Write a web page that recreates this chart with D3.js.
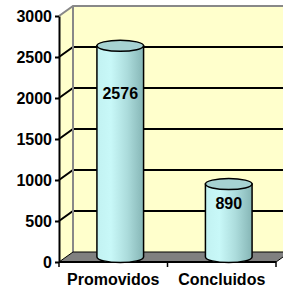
<!DOCTYPE html>
<html>
<head>
<meta charset="utf-8">
<script src="https://cdn.jsdelivr.net/npm/d3@7"></script>
<style>
  body { margin: 0; background: #fff; }
  text { font-family: "Liberation Sans", Arial, sans-serif; font-weight: bold; }
</style>
</head>
<body>
<div id="chart"></div>
<script>
var categories = ['Promovidos', 'Concluidos'];
var values = [2576, 890];
var yTicks = [0, 500, 1000, 1500, 2000, 2500, 3000];

(function() {
var width = 283,
    height = 288,
    left = 59, right = 276,
    bottom = 262, plotTop = 16,
    dx = 14, dy = 10;   // depth of the 3d box

var svg = d3.select('#chart').append('svg')
    .attr('width', width).attr('height', height);

var x = d3.scaleBand().domain(categories).range([left, right]);
var y = d3.scaleLinear().domain([0, 3000]).range([bottom, plotTop]);

var defs = svg.append('defs');
var grad = defs.append('linearGradient').attr('id', 'cyl')
    .attr('x1', '0%').attr('x2', '100%').attr('y1', '0%').attr('y2', '0%');
[['0%', '#c2f2f2'], ['30%', '#c8f8f8'], ['65%', '#acdcdc'], ['100%', '#86b6b6']].forEach(function(s) {
  grad.append('stop').attr('offset', s[0]).attr('stop-color', s[1]);
});

// back wall
svg.append('rect')
  .attr('x', left + dx).attr('y', plotTop - dy)
  .attr('width', right - left + 20).attr('height', bottom - plotTop)
  .attr('fill', '#ffffcc');

// side wall
svg.append('path')
  .attr('d', 'M' + left + ',' + plotTop + 'L' + (left + dx) + ',' + (plotTop - dy) +
    'L' + (left + dx) + ',' + (bottom - dy) + 'L' + left + ',' + bottom + 'Z')
  .attr('fill', '#ffffcc');

// gridlines
var grid = svg.append('g').attr('stroke', '#000').attr('stroke-width', 2).attr('fill', 'none');
yTicks.filter(function(t) { return t > 0 && t < 3000; }).forEach(function(t) {
  var yy = y(t);
  grid.append('path')
    .attr('d', 'M' + left + ',' + yy + 'L' + (left + dx) + ',' + (yy - dy) + 'L' + (width + 10) + ',' + (yy - dy));
});

// wall edges
svg.append('path')
  .attr('d', 'M' + left + ',' + plotTop + 'L' + (left + dx) + ',' + (plotTop - dy) + 'L' + (width + 10) + ',' + (plotTop - dy) +
    'M' + (left + dx) + ',' + (plotTop - dy) + 'L' + (left + dx) + ',' + (bottom - dy))
  .attr('stroke', '#888').attr('stroke-width', 2).attr('fill', 'none');

// floor
svg.append('path')
  .attr('d', 'M' + left + ',' + bottom + 'L' + (left + dx) + ',' + (bottom - dy) +
    'L' + (right + dx) + ',' + (bottom - dy) + 'L' + right + ',' + bottom + 'Z')
  .attr('fill', '#808080').attr('stroke', '#000').attr('stroke-width', 1);

// y axis
var yAxis = svg.append('g')
  .attr('transform', 'translate(' + left + ',0)')
  .call(d3.axisLeft(y).tickValues(yTicks).tickFormat(d3.format('d'))
    .tickSize(4).tickPadding(3).tickSizeOuter(0));
yAxis.select('.domain').attr('stroke', '#000').attr('stroke-width', 2);
yAxis.selectAll('.tick line').attr('stroke', '#000').attr('stroke-width', 2);
yAxis.selectAll('.tick text').attr('fill', '#000').style('font-size', '16px').style('font-weight', 'bold')
  .style('font-family', '"Liberation Sans", Arial, sans-serif');

// x axis
var xAxis = svg.append('g')
  .attr('transform', 'translate(0,' + bottom + ')');
xAxis.append('line').attr('x1', left).attr('x2', right).attr('stroke', '#000').attr('stroke-width', 2);
[left, left + x.step(), right].forEach(function(px) {
  xAxis.append('line').attr('x1', px).attr('x2', px).attr('y1', 0).attr('y2', 5)
    .attr('stroke', '#000').attr('stroke-width', 1.5);
});
xAxis.selectAll('.cat').data(categories).enter().append('text')
  .attr('class', 'cat')
  .attr('x', function(d) { return x(d) + x.bandwidth() / 2; })
  .attr('y', 23)
  .attr('text-anchor', 'middle')
  .style('font-size', '16px')
  .text(function(d) { return d; });

// cylinders
var rx = x.bandwidth() * 0.215, ry = 5.5;
var bars = svg.selectAll('.bar').data(values).enter().append('g').attr('class', 'bar');
bars.each(function(v, i) {
  var g = d3.select(this);
  var cx = x(categories[i]) + x.bandwidth() / 2 + dx / 2;
  var yb = bottom - dy / 2, yt = y(v) - dy / 2;
  g.append('path')
    .attr('d', 'M' + (cx - rx) + ',' + yt + 'L' + (cx - rx) + ',' + yb +
      'A' + rx + ',' + ry + ' 0 0 0 ' + (cx + rx) + ',' + yb + 'L' + (cx + rx) + ',' + yt + 'Z')
    .attr('fill', 'url(#cyl)').attr('stroke', '#000').attr('stroke-width', 1.5);
  g.append('ellipse')
    .attr('cx', cx).attr('cy', yt).attr('rx', rx).attr('ry', ry)
    .attr('fill', '#a6d2d2').attr('stroke', '#000').attr('stroke-width', 1.5);
  g.append('text')
    .attr('x', cx)
    .attr('y', y(v * 0.8))
    .attr('dy', '0.36em')
    .attr('text-anchor', 'middle')
    .style('font-size', '16px')
    .text(v);
});
})();
</script>
</body>
</html>
